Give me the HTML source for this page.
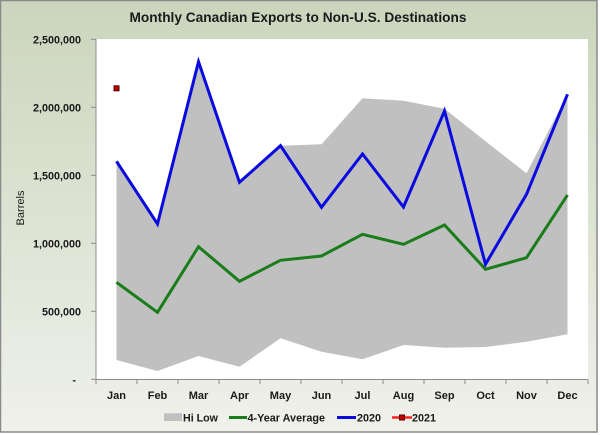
<!DOCTYPE html>
<html><head><meta charset="utf-8"><style>
html,body{margin:0;padding:0;background:#fff;}
svg{display:block;font-family:"Liberation Sans",Arial,sans-serif;}
</style></head><body>
<svg width="600" height="435" viewBox="0 0 600 435" xmlns="http://www.w3.org/2000/svg">
<defs>
<linearGradient id="bg" x1="0" y1="0" x2="0" y2="1">
<stop offset="0" stop-color="#cbd5bc"/>
<stop offset="0.5" stop-color="#dde3d3"/>
<stop offset="1" stop-color="#eff1eb"/>
</linearGradient>
</defs>
<rect x="0.5" y="0.5" width="596.5" height="431.5" fill="url(#bg)" stroke="#8a8a8a" stroke-width="1.5"/>
<text x="298" y="22" text-anchor="middle" font-size="14" font-weight="bold" fill="#1a1a1a" textLength="337" lengthAdjust="spacingAndGlyphs">Monthly Canadian Exports to Non-U.S. Destinations</text>
<rect x="96" y="39" width="492" height="340.5" fill="#ffffff"/>
<polygon fill="#c0c0c0" points="116.5,161.3 157.5,224 198.5,61.7 239.5,182.3 280.5,145.7 321.5,144.3 362.5,98.3 403.5,100.7 444.5,108.7 485.5,141.3 526.5,173.3 567.5,94.3 567.5,334.3 526.5,341.7 485.5,347 444.5,347.7 403.5,345 362.5,359.3 321.5,351.7 280.5,338.3 239.5,366.7 198.5,356 157.5,371 116.5,360"/>
<polyline fill="none" stroke="#1a7d1a" stroke-width="3" stroke-linejoin="miter" points="116.5,282.3 157.5,312.3 198.5,246.7 239.5,281.3 280.5,260.3 321.5,256 362.5,234.3 403.5,244.3 444.5,225 485.5,269.3 526.5,257.7 567.5,195"/>
<polyline fill="none" stroke="#0a0ae0" stroke-width="3" stroke-linejoin="miter" points="116.5,161.3 157.5,224 198.5,61.7 239.5,182.3 280.5,145.7 321.5,207.3 362.5,154 403.5,207 444.5,111 485.5,264.3 526.5,194.3 567.5,94.3"/>
<rect x="114" y="85.8" width="5" height="5" fill="#c00000" stroke="#5a0000" stroke-width="1"/>
<g stroke="#8c8c8c" stroke-width="1" fill="none">
<line x1="96" y1="39" x2="96" y2="379.5"/>
<line x1="96" y1="379.5" x2="588" y2="379.5"/>
<line x1="91" y1="39.3" x2="96" y2="39.3"/>
<line x1="91" y1="107.3" x2="96" y2="107.3"/>
<line x1="91" y1="175.3" x2="96" y2="175.3"/>
<line x1="91" y1="243.3" x2="96" y2="243.3"/>
<line x1="91" y1="311.3" x2="96" y2="311.3"/>
<line x1="91" y1="379.3" x2="96" y2="379.3"/>
<line x1="96" y1="379.5" x2="96" y2="384"/>
<line x1="137" y1="379.5" x2="137" y2="384"/>
<line x1="178" y1="379.5" x2="178" y2="384"/>
<line x1="219" y1="379.5" x2="219" y2="384"/>
<line x1="260" y1="379.5" x2="260" y2="384"/>
<line x1="301" y1="379.5" x2="301" y2="384"/>
<line x1="342" y1="379.5" x2="342" y2="384"/>
<line x1="383" y1="379.5" x2="383" y2="384"/>
<line x1="424" y1="379.5" x2="424" y2="384"/>
<line x1="465" y1="379.5" x2="465" y2="384"/>
<line x1="506" y1="379.5" x2="506" y2="384"/>
<line x1="547" y1="379.5" x2="547" y2="384"/>
<line x1="588" y1="379.5" x2="588" y2="384"/>
</g>
<g font-size="11" font-weight="bold" fill="#1a1a1a" text-anchor="end">
<text x="81" y="43.3" textLength="48" lengthAdjust="spacingAndGlyphs">2,500,000</text>
<text x="81" y="111.3" textLength="48" lengthAdjust="spacingAndGlyphs">2,000,000</text>
<text x="81" y="179.3" textLength="48" lengthAdjust="spacingAndGlyphs">1,500,000</text>
<text x="81" y="247.3" textLength="48" lengthAdjust="spacingAndGlyphs">1,000,000</text>
<text x="81" y="315.3" textLength="39" lengthAdjust="spacingAndGlyphs">500,000</text>
<text x="76" y="383.3">-</text>
</g>
<text transform="translate(24,208) rotate(-90)" text-anchor="middle" font-size="11" fill="#1a1a1a" textLength="35" lengthAdjust="spacingAndGlyphs">Barrels</text>
<g font-size="11" font-weight="bold" fill="#1a1a1a" text-anchor="middle">
<text x="116.5" y="399">Jan</text>
<text x="157.5" y="399">Feb</text>
<text x="198.5" y="399">Mar</text>
<text x="239.5" y="399">Apr</text>
<text x="280.5" y="399">May</text>
<text x="321.5" y="399">Jun</text>
<text x="362.5" y="399">Jul</text>
<text x="403.5" y="399">Aug</text>
<text x="444.5" y="399">Sep</text>
<text x="485.5" y="399">Oct</text>
<text x="526.5" y="399">Nov</text>
<text x="567.5" y="399">Dec</text>
</g>
<rect x="164" y="413.3" width="18" height="7.7" fill="#c0c0c0"/>
<line x1="229" y1="417.5" x2="247" y2="417.5" stroke="#1a7d1a" stroke-width="3"/>
<line x1="337" y1="417.5" x2="356" y2="417.5" stroke="#0a0ae0" stroke-width="3"/>
<line x1="392" y1="417.5" x2="412" y2="417.5" stroke="#ff2020" stroke-width="2.5"/>
<rect x="399.5" y="415" width="5" height="5" fill="#c00000" stroke="#5a0000" stroke-width="1"/>
<g font-size="11" font-weight="bold" fill="#1a1a1a">
<text x="183" y="421.5" textLength="35" lengthAdjust="spacingAndGlyphs">Hi Low</text>
<text x="247.5" y="421.5" textLength="77.5" lengthAdjust="spacingAndGlyphs">4-Year Average</text>
<text x="357" y="421.5" textLength="24" lengthAdjust="spacingAndGlyphs">2020</text>
<text x="412" y="421.5" textLength="24" lengthAdjust="spacingAndGlyphs">2021</text>
</g>
</svg>
</body></html>
